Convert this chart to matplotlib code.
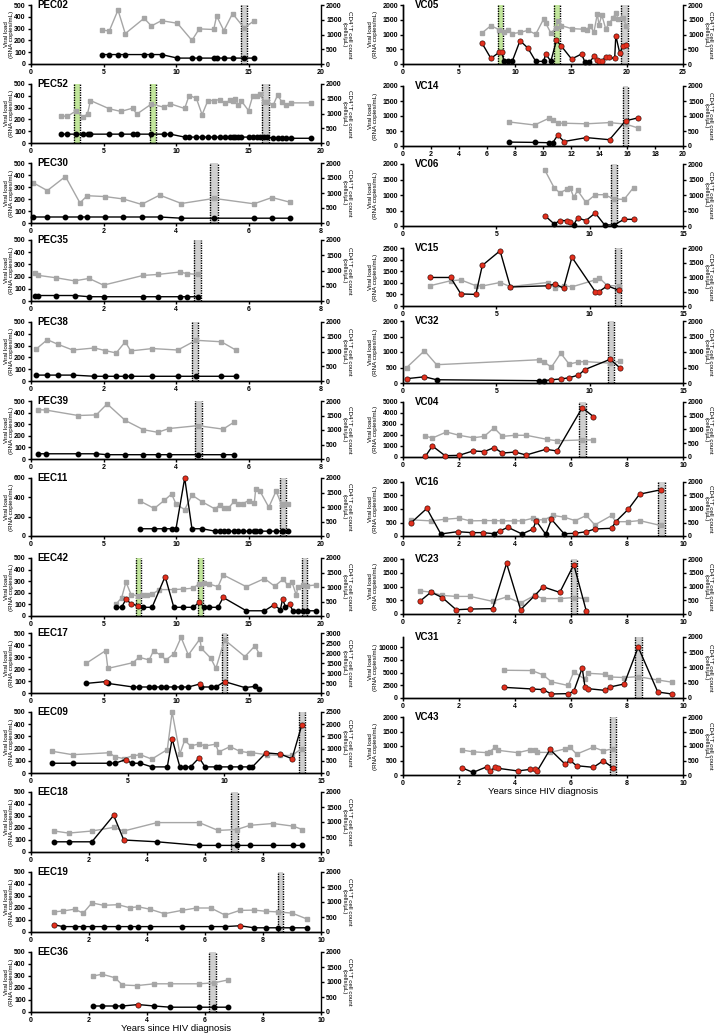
import numpy as np
import matplotlib.pyplot as plt

plt.rcParams['font.family'] = ['Liberation Sans', 'DejaVu Sans']
plt.rcParams['font.weight'] = 'bold'

# ---- data -------------------------------------------------------------
left_names = ["PEC02", "PEC52", "PEC30", "PEC35", "PEC38", "PEC39", "EEC11",
              "EEC42", "EEC17", "EEC09", "EEC18", "EEC19", "EEC36"]
right_names = ["VC05", "VC14", "VC06", "VC15", "VC32", "VC04", "VC16",
               "VC23", "VC31", "VC43"]

# axis ranges: (x max, x step, VL max, VL tick max, VL step, CD4 max)
axis_range = {
    "PEC02": (20, 5, 500, 500, 100, 2000),
    "PEC52": (20, 5, 500, 500, 100, 2000),
    "PEC30": (8, 2, 500, 500, 100, 2000),
    "PEC35": (8, 2, 500, 500, 100, 2000),
    "PEC38": (8, 2, 500, 500, 100, 2000),
    "PEC39": (8, 2, 500, 500, 100, 2000),
    "EEC11": (20, 5, 600, 600, 200, 2000),
    "EEC42": (20, 5, 500, 500, 100, 2000),
    "EEC17": (20, 5, 500, 500, 100, 3000),
    "EEC09": (15, 5, 500, 500, 100, 2500),
    "EEC18": (10, 2, 500, 500, 100, 2000),
    "EEC19": (10, 2, 500, 500, 100, 2000),
    "EEC36": (10, 2, 500, 500, 100, 2000),
    "VC05": (25, 5, 2000, 2000, 500, 2000),
    "VC14": (20, 2, 2000, 2000, 500, 2000),
    "VC06": (15, 5, 2000, 2000, 500, 2000),
    "VC15": (15, 5, 2500, 2500, 500, 2000),
    "VC32": (15, 5, 2000, 2000, 500, 2000),
    "VC04": (10, 2, 5000, 5000, 1000, 2000),
    "VC16": (10, 2, 2000, 2000, 500, 2000),
    "VC23": (10, 2, 2000, 2000, 500, 2000),
    "VC31": (10, 2, 12000, 10000, 2500, 2000),
    "VC43": (10, 2, 2000, 2000, 500, 2000),
}

cd4_t = {
    "PEC02": [4.9, 5.4, 6.0, 6.5, 7.8, 8.3, 9.0, 10.1, 11.1, 11.6, 12.6, 12.8, 13.3, 13.9, 14.7, 15.4],
    "PEC52": [2.1, 2.5, 3.1, 3.6, 3.9, 4.1, 5.4, 6.2, 7.0, 7.3, 8.3, 9.2, 9.6, 10.6, 10.9, 11.4, 11.8, 12.2, 12.6,
              13.0, 13.4, 13.7, 13.9, 14.1, 14.3, 14.5, 15.0, 15.3, 15.6, 15.8, 16.1, 16.3, 16.7, 17.0, 17.3, 17.6,
              17.9, 19.3],
    "PEC30": [0.05, 0.45, 0.95, 1.35, 1.55, 2.05, 2.55, 3.05, 3.55, 4.15, 5.05, 6.15, 6.65, 7.15],
    "PEC35": [0.1, 0.2, 0.7, 1.2, 1.6, 2.0, 3.1, 3.5, 4.1, 4.3, 4.6],
    "PEC38": [0.15, 0.45, 0.75, 1.15, 1.75, 2.05, 2.35, 2.6, 2.75, 3.35, 4.05, 4.55, 5.25, 5.65],
    "PEC39": [0.2, 0.4, 1.3, 1.8, 2.1, 2.6, 3.1, 3.5, 3.8, 4.6, 5.3, 5.6],
    "EEC11": [7.5, 8.5, 9.2, 9.7, 10.0, 10.6, 11.1, 11.8, 12.7, 13.0, 13.3, 13.6, 14.0, 14.3, 14.6, 15.0, 15.4,
              15.5, 15.8, 16.4, 16.9, 17.3, 17.4, 17.7],
    "EEC42": [5.85, 6.25, 6.55, 6.9, 7.35, 7.7, 8.0, 8.35, 8.85, 9.85, 10.5, 11.2, 11.6, 11.95, 12.3, 12.9, 13.25,
              14.85, 16.1, 16.8, 17.4, 17.7, 18.0, 18.3, 18.4, 18.75, 19.05, 19.65],
    "EEC17": [3.8, 5.15, 5.3, 7.05, 7.45, 8.15, 8.45, 8.95, 9.3, 9.85, 10.35, 10.85, 11.65, 11.75, 12.4, 12.75,
              13.35, 14.75, 15.45, 15.75],
    "EEC09": [1.1, 2.15, 4.05, 4.35, 4.8, 5.25, 5.65, 6.25, 7.05, 7.3, 7.7, 7.95, 8.25, 8.7, 9.0, 9.55, 9.7, 10.3,
              10.8, 11.3, 11.45, 12.2, 12.9, 13.5, 14.0],
    "EEC18": [0.8, 1.3, 2.1, 2.85, 3.2, 4.35, 5.8, 6.45, 7.1, 7.55, 8.35, 9.05, 9.35],
    "EEC19": [0.8, 1.1, 1.5, 1.8, 2.1, 2.5, 3.0, 3.4, 3.7, 4.1, 4.6, 5.2, 5.7, 6.2, 6.7, 7.2, 7.7, 8.1, 8.5, 9.0,
              9.5],
    "EEC36": [2.15, 2.45, 2.9, 3.15, 3.65, 4.25, 4.8, 5.8, 6.3, 6.8],
    "VC05": [7.05, 7.85, 8.6, 9.05, 9.4, 9.75, 10.45, 11.15, 11.85, 12.55, 12.75, 13.2, 13.7, 13.8, 14.15, 15.05,
             16.05, 16.4, 16.7, 17.05, 17.35, 17.5, 17.75, 18.1, 18.4, 18.75, 19.0, 19.2, 19.65, 19.95],
    "VC14": [7.6, 9.4, 10.4, 10.7, 11.05, 11.5, 13.1, 14.75, 15.9, 16.8],
    "VC06": [7.6, 8.1, 8.4, 8.8, 8.95, 9.15, 9.35, 9.8, 10.3, 10.8, 11.3, 11.85, 12.35],
    "VC15": [1.45, 2.55, 3.1, 3.9, 4.25, 5.2, 5.75, 7.75, 8.15, 8.6, 9.05, 10.3, 10.5, 10.95, 11.55],
    "VC32": [0.2, 1.15, 1.8, 7.3, 7.55, 7.95, 8.45, 8.9, 9.4, 9.75, 11.1, 11.6],
    "VC04": [0.8, 1.05, 1.55, 2.0, 2.5, 2.9, 3.25, 3.55, 4.0, 4.4, 5.15, 5.5, 6.4, 6.8],
    "VC16": [0.3, 1.0, 1.5, 2.0, 2.4, 2.9, 3.25, 3.55, 3.95, 4.25, 4.65, 4.75, 5.05, 5.35, 5.75, 6.15, 6.55, 6.85,
             7.45, 7.6, 8.05, 8.45, 9.2],
    "VC23": [0.6, 1.0, 1.4, 1.9, 2.4, 3.2, 3.7, 4.2, 4.7, 5.0, 5.6, 6.1, 6.55],
    "VC31": [3.6, 4.6, 5.0, 5.3, 5.9, 6.1, 6.5, 6.6, 7.2, 7.4, 7.9, 8.4, 9.1, 9.6],
    "VC43": [2.1, 2.5, 3.0, 3.1, 3.3, 3.4, 4.1, 4.55, 4.7, 4.8, 5.25, 5.8, 5.95, 6.2, 6.8, 7.15, 7.5],
}

cd4 = {
    "PEC02": [1150, 1120, 1830, 1030, 1550, 1290, 1470, 1380, 800, 1190, 1170, 1630, 1130, 1710, 1220, 1470],
    "PEC52": [920, 900, 1090, 880, 990, 1440, 1160, 1070, 1180, 980, 1320, 1210, 1330, 1170, 1610, 1520, 960, 1440,
              1440, 1470, 1340, 1450, 1440, 1480, 1290, 1430, 1100, 1610, 1600, 1650, 1380, 1380, 1280, 1620, 1400,
              1280, 1360, 1360],
    "PEC30": [1350, 1080, 1550, 670, 910, 880, 800, 620, 930, 650, 820, 640, 850, 690],
    "PEC35": [910, 840, 760, 660, 740, 520, 840, 870, 950, 900, 870],
    "PEC38": [1090, 1400, 1240, 1050, 1120, 1030, 950, 1330, 1020, 1100, 1050, 1380, 1330, 1050],
    "PEC39": [1700, 1690, 1500, 1520, 1900, 1330, 1010, 920, 1050, 1150, 1030, 1270],
    "EEC11": [1210, 950, 1230, 1450, 1100, 910, 1410, 1180, 930, 1070, 950, 950, 1190, 1100, 1110, 1220, 1140, 1630,
              1540, 990, 1550, 1060, 1100, 1100],
    "EEC42": [400, 630, 1170, 740, 700, 710, 710, 750, 910, 910, 930, 960, 1120, 1150, 1100, 1010, 1420, 1010, 1290,
              1030, 1270, 1060, 1170, 710, 1010, 1060, 1040, 1070],
    "EEC17": [1480, 2120, 1230, 1520, 1790, 1650, 2110, 1890, 1650, 1960, 2780, 1900, 2700, 2230, 1740, 1230, 2660,
              1820, 2360, 1940],
    "EEC09": [890, 750, 830, 660, 590, 700, 750, 570, 960, 2500, 790, 1340, 1110, 1190, 1110, 1180, 860, 1080, 890,
              830, 830, 750, 720, 720, 1000],
    "EEC18": [700, 630, 700, 820, 700, 980, 980, 720, 750, 890, 950, 860, 750],
    "EEC19": [670, 700, 760, 630, 970, 890, 910, 810, 840, 760, 610, 720, 800, 800, 560, 720, 730, 690, 670, 630,
              440],
    "EEC36": [1200, 1260, 1140, 900, 880, 940, 940, 940, 970, 1070],
    "VC05": [1050, 1300, 1160, 1070, 1140, 1030, 1070, 1140, 1010, 1520, 1380, 1050, 1230, 1460, 1300, 1200, 1180,
             1160, 1290, 1080, 1700, 1320, 1660, 1190, 1380, 1550, 1740, 1520, 1550, 1300],
    "VC14": [800, 700, 920, 860, 760, 760, 740, 780, 730, 600],
    "VC06": [1800, 1230, 1070, 1190, 1240, 920, 1150, 760, 1010, 1010, 870, 860, 1240],
    "VC15": [700, 870, 900, 700, 690, 810, 670, 810, 620, 700, 660, 900, 980, 700, 700],
    "VC32": [500, 1040, 590, 750, 680, 510, 960, 610, 680, 690, 640, 700],
    "VC04": [760, 690, 910, 790, 700, 750, 1060, 750, 790, 790, 640, 590, 620, 620],
    "VC16": [600, 560, 620, 660, 560, 570, 570, 560, 560, 560, 660, 600, 600, 760, 700, 570, 760, 410, 760, 530, 530,
             570, 390],
    "VC23": [840, 795, 675, 640, 640, 460, 620, 400, 675, 560, 560, 600, 560],
    "VC31": [910, 900, 760, 530, 410, 860, 610, 810, 780, 690, 670, 700, 590, 520],
    "VC43": [860, 800, 770, 800, 970, 850, 770, 870, 870, 780, 780, 900, 970, 720, 960, 830, 910],
}

vl_t = {
    "PEC02": cd4_t["PEC02"],
    "PEC52": cd4_t["PEC52"],
    "PEC30": cd4_t["PEC30"],
    "PEC35": cd4_t["PEC35"],
    "PEC38": cd4_t["PEC38"],
    "PEC39": cd4_t["PEC39"],
    "EEC11": cd4_t["EEC11"],
    "EEC42": [5.85, 6.25, 6.55, 6.9, 7.4, 7.7, 8.35, 9.25, 9.85, 10.5, 11.2, 11.6, 11.95, 12.3, 12.9, 13.25, 14.85,
              16.1, 16.75, 17.2, 17.35, 17.55, 17.85, 18.05, 18.4, 18.75, 19.05, 19.65],
    "EEC17": cd4_t["EEC17"],
    "EEC09": [1.1, 2.15, 4.05, 4.35, 4.9, 5.2, 5.65, 6.25, 7.05, 7.3, 7.7, 7.95, 8.25, 8.7, 9.0, 9.55, 9.7, 10.3,
              10.8, 11.3, 11.45, 12.15, 12.9, 13.5, 14.0],
    "EEC18": cd4_t["EEC18"],
    "EEC19": [0.8, 1.1, 1.5, 1.8, 2.1, 2.5, 3.0, 3.4, 3.7, 4.1, 5.2, 6.2, 6.7, 7.2, 7.7, 8.1, 8.5, 9.0, 9.5],
    "EEC36": [2.15, 2.45, 2.9, 3.15, 3.7, 4.25, 4.8, 5.8, 6.3, 6.8],
    "VC05": [7.05, 7.85, 8.6, 8.8, 9.05, 9.4, 9.75, 10.45, 11.15, 11.85, 12.55, 12.75, 13.2, 13.7, 14.15, 15.05,
             15.95, 16.25, 16.65, 17.05, 17.35, 17.5, 17.75, 18.1, 18.4, 18.9, 19.0, 19.35, 19.65, 19.95],
    "VC14": cd4_t["VC14"],
    "VC06": cd4_t["VC06"],
    "VC15": cd4_t["VC15"],
    "VC32": cd4_t["VC32"],
    "VC04": [0.8, 1.05, 1.5, 2.0, 2.5, 2.9, 3.25, 3.55, 4.0, 4.4, 5.1, 5.5, 6.4, 6.8],
    "VC16": [0.3, 0.85, 1.35, 1.95, 2.45, 2.85, 3.25, 3.45, 3.75, 4.25, 4.65, 4.75, 5.1, 5.3, 5.75, 6.15, 6.55, 6.85,
             7.45, 7.6, 8.05, 8.45, 9.2],
    "VC23": cd4_t["VC23"],
    "VC31": [3.6, 4.6, 5.0, 5.3, 5.9, 6.1, 6.4, 6.5, 6.6, 7.2, 7.4, 7.9, 8.4, 9.1, 9.6],
    "VC43": cd4_t["VC43"],
}

vl = {
    "PEC02": [80, 80, 80, 80, 80, 80, 80, 50, 50, 50, 50, 50, 50, 50, 50, 50],
    "PEC52": [75] * 13 + [50] * 19 + [40] * 6,
    "PEC30": [50, 50, 50, 50, 50, 50, 50, 50, 50, 40, 40, 40, 40, 40],
    "PEC35": [45, 45, 45, 45, 35, 35, 35, 35, 35, 35, 35],
    "PEC38": [50, 50, 50, 50, 40, 40, 40, 40, 40, 40, 40, 40, 40, 40],
    "PEC39": [45, 45, 45, 45, 37, 37, 37, 37, 37, 37, 37, 37],
    "EEC11": [75, 75, 75, 75, 75, 600, 75, 75] + [50] * 16,
    "EEC42": [75, 75, 145, 105, 88, 75, 75, 340, 75, 75, 75, 120, 75, 75, 75, 160, 45, 45, 95, 55, 145, 80, 100,
              45, 45, 45, 45, 45],
    "EEC17": [80, 95, 80, 50, 50, 50, 50, 50, 50, 50, 50, 50, 75, 50, 50, 50, 95, 45, 55, 35],
    "EEC09": [80, 80, 80, 80, 110, 80, 80, 50, 50, 280, 50, 50, 50, 125, 50, 50, 50, 50, 50, 50, 50, 165, 155, 117,
              390],
    "EEC18": [85, 85, 85, 305, 100, 85, 55, 55, 55, 55, 55, 55, 55],
    "EEC19": [60, 45, 45, 45, 45, 45, 45, 45, 45, 45, 45, 45, 45, 52, 35, 35, 35, 35, 35],
    "EEC36": [50, 50, 50, 50, 62, 50, 40, 40, 40, 40],
    "VC05": [710, 190, 400, 390, 90, 90, 90, 790, 540, 90, 90, 340, 90, 800, 600, 170, 340, 55, 55, 260, 145, 110,
             110, 225, 225, 190, 965, 370, 620, 650],
    "VC14": [130, 120, 110, 110, 360, 150, 280, 210, 840, 940],
    "VC06": [335, 65, 175, 175, 130, 40, 260, 175, 420, 35, 35, 215, 215],
    "VC15": [1230, 1230, 520, 500, 1750, 2380, 820, 870, 950, 770, 2100, 620, 620, 870, 680],
    "VC32": [140, 200, 105, 75, 75, 105, 130, 170, 255, 435, 765, 500],
    "VC04": [60, 1000, 120, 150, 550, 490, 850, 360, 450, 180, 700, 550, 4480, 3670],
    "VC16": [500, 1020, 75, 160, 125, 125, 85, 185, 320, 75, 260, 570, 60, 620, 85, 100, 160, 260, 285, 535, 995,
             1550, 1710],
    "VC23": [460, 795, 600, 155, 180, 195, 1840, 155, 665, 990, 785, 1795, 95],
    "VC31": [2100, 1780, 1650, 790, 860, 1320, 5900, 2170, 1840, 1510, 2170, 2760, 10000, 1180, 790],
    "VC43": [250, 90, 285, 140, 265, 230, 140, 195, 195, 150, 880, 365, 515, 320, 265, 490, 250],
}

# indices of detectable (red) viral-load measurements
vl_red = {
    "EEC11": [5],
    "EEC42": [2, 3, 4, 7, 11, 15, 18, 20, 22],
    "EEC17": [1, 12, 16],
    "EEC09": [4, 9, 13, 21, 22, 23, 24],
    "EEC18": [3, 4],
    "EEC19": [0, 13],
    "EEC36": [4],
    "VC05": [0, 1, 2, 3, 7, 8, 11, 13, 14, 15, 16, 19, 20, 21, 22, 23, 24, 25, 26, 27, 28, 29],
    "VC14": [4, 5, 6, 7, 8, 9],
    "VC06": [0, 2, 3, 4, 6, 7, 8, 11, 12],
    "VC15": list(range(15)),
    "VC32": [0, 1, 5, 6, 7, 8, 9, 10, 11],
    "VC04": list(range(14)),
    "VC16": [0, 1, 3, 4, 5, 7, 8, 10, 11, 13, 15, 16, 17, 18, 19, 20, 21, 22],
    "VC23": list(range(13)),
    "VC31": list(range(15)),
    "VC43": [0, 2, 3, 4, 5, 6, 7, 8, 9, 10, 11, 12, 13, 14, 15, 16],
}

# shaded intervals (start, end, kind)
bands = {
    "PEC02": [(14.45, 14.9, "g")],
    "PEC52": [(2.95, 3.4, "G"), (8.2, 8.6, "G"), (15.95, 16.4, "g")],
    "PEC30": [(4.95, 5.15, "g")],
    "PEC35": [(4.5, 4.7, "g")],
    "PEC38": [(4.45, 4.62, "g")],
    "PEC39": [(4.52, 4.72, "g")],
    "EEC11": [(17.2, 17.6, "g")],
    "EEC42": [(7.25, 7.6, "G"), (11.5, 11.85, "G"), (18.7, 19.05, "g")],
    "EEC17": [(13.2, 13.5, "g")],
    "EEC09": [(13.85, 14.15, "g")],
    "EEC18": [(6.9, 7.13, "g")],
    "EEC19": [(8.52, 8.68, "g")],
    "EEC36": [(6.15, 6.38, "g")],
    "VC05": [(8.45, 8.9, "G"), (13.5, 14.0, "G"), (19.5, 20.05, "g")],
    "VC14": [(15.72, 16.1, "g")],
    "VC06": [(11.12, 11.47, "g")],
    "VC15": [(11.35, 11.67, "g")],
    "VC32": [(10.99, 11.31, "g")],
    "VC04": [(6.3, 6.55, "g")],
    "VC16": [(9.1, 9.35, "g")],
    "VC23": [(6.0, 6.22, "g")],
    "VC31": [(8.3, 8.52, "g")],
    "VC43": [(7.4, 7.6, "g")],
}

# ---- layout (pixels) --------------------------------------------------
W, H = 720, 1035
left_x = (31, 321)
right_x = (403, 683)
left_rows = [(5, 64), (84, 143), (163, 223), (240, 301), (322, 381), (401, 459), (478, 536),
             (558, 616), (633, 693), (712, 773), (792, 852), (872, 932), (952, 1012)]
right_rows = [(5, 64), (86, 146), (164, 226), (248, 306), (321, 383), (402, 457), (482, 536),
              (559, 614), (637, 698), (717, 775)]

GRAY = '#a6a6a6'
RED = '#e2301f'
BAND_COL = {"g": '#cfcfcf', "G": '#c2e69c'}
FS = 5.0
FL = 4.5

fig = plt.figure(figsize=(W / 100, H / 100), dpi=100)


def draw_panel(name, xs, row, title_dx, yl_x, yr_x, last):
    x0, x1 = xs
    top, bot = row
    ax = fig.add_axes([x0 / W, 1 - bot / H, (x1 - x0) / W, (bot - top) / H])
    ax2 = ax.twinx()
    ax.set_zorder(ax2.get_zorder() + 1)
    ax.patch.set_visible(False)

    xmax, xstep, vmax, vtop, vstep, cmax = axis_range[name]

    for a, b, kind in bands[name]:
        ax2.axvspan(a, b, color=BAND_COL[kind], lw=0, zorder=0)
        for v in (a, b):
            ax2.axvline(v, color='k', ls=(0, (1, 0.8)), lw=1.0, zorder=1)

    ax2.plot(cd4_t[name], cd4[name], '-s', color=GRAY, ms=3.0, lw=1.0, clip_on=False, zorder=2)

    t = np.array(vl_t[name])
    v = np.array(vl[name])
    ax.plot(t, v, '-o', color='k', ms=3.2, lw=1.0, clip_on=False, zorder=3)
    idx = vl_red.get(name, [])
    if idx:
        ax.plot(t[idx], v[idx], 'o', color=RED, mec='#b52414', mew=0.4, ms=3.4, clip_on=False, zorder=4)

    ax.set_xlim(0, xmax)
    ax.set_xticks(np.arange(0, xmax + 0.01, xstep))
    ax.set_ylim(0, vmax)
    ax.set_yticks(np.arange(0, vtop + 0.01, vstep))
    ax2.set_ylim(0, cmax)
    ax2.set_yticks(np.arange(0, cmax + 0.01, 500))

    for a in (ax, ax2):
        a.spines['top'].set_visible(False)
        for s in a.spines.values():
            s.set_linewidth(1.0)
        a.tick_params(labelsize=FS, length=2.5, width=1.0, pad=1.2)
    ax.spines['right'].set_visible(False)

    ax.set_ylabel("Viral load\n(RNA copies/mL)", fontsize=FL, linespacing=1.0)
    ax.yaxis.set_label_coords(yl_x, 0.5)
    ax2.set_ylabel("CD4\u207aT cell count\n(cells/\u00b5L)", fontsize=FL, linespacing=1.0,
                   rotation=270, va='bottom')
    ax2.yaxis.set_label_coords(yr_x, 0.5)
    ax.text(title_dx, 1.0, name, transform=ax.transAxes, fontsize=7, fontweight='bold',
            va='center', ha='left')
    if last:
        ax.set_xlabel("Years since HIV diagnosis", fontsize=6.8)
        ax.xaxis.set_label_coords(0.5, -0.205)


for i, nm in enumerate(left_names):
    draw_panel(nm, left_x, left_rows[i], 0.023, -0.058, 1.072, i == len(left_names) - 1)
for i, nm in enumerate(right_names):
    draw_panel(nm, right_x, right_rows[i], 0.043, -0.09, 1.072, i == len(right_names) - 1)

fig.savefig("out.png", dpi=100)
